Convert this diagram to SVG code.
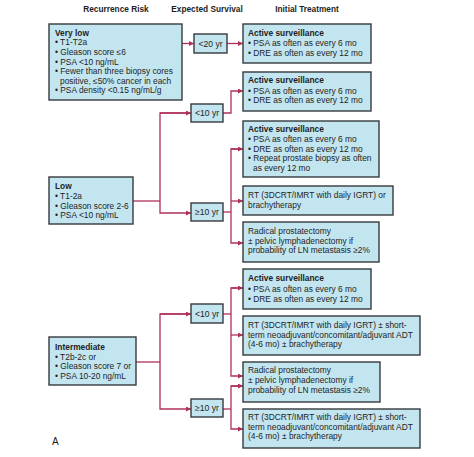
<svg xmlns="http://www.w3.org/2000/svg" width="474" height="457" viewBox="0 0 474 457">
<style>
text{font-family:"Liberation Sans",Arial,sans-serif;font-size:8.4px;fill:#1e1e1e}
.h{font-weight:bold;font-size:8.3px;text-anchor:middle}
.b{font-weight:bold}
.m{text-anchor:middle;font-size:8.6px}
.box{fill:#c3e5f0;stroke:#353b3d;stroke-width:1.4}
.c{fill:none;stroke:#b0305c;stroke-width:1.3}
</style>
<defs>
<marker id="ar" viewBox="0 0 6 6" refX="6" refY="3" markerWidth="5" markerHeight="5" orient="auto" markerUnits="userSpaceOnUse">
<path d="M0,0 L6,3 L0,6 Z" fill="#b0305c"/>
</marker>
</defs>
<rect width="474" height="457" fill="#fff"/>
<g id="headers">
<text class="h" x="116" y="11.5">Recurrence Risk</text>
<text class="h" x="207" y="11.5">Expected Survival</text>
<text class="h" x="307" y="11.5">Initial Treatment</text>
</g>
<g id="connectors">
<path class="c" d="M182,43.5 H194" marker-end="url(#ar)"/>
<path class="c" d="M227,43.5 H243" marker-end="url(#ar)"/>
<path class="c" d="M133,201 H160"/>
<path class="c" d="M191,113 H160 V213 H191" marker-end="url(#ar)"/>
<path class="c" d="M160,113 H191" marker-end="url(#ar)"/>
<path class="c" d="M223,113 H231 V91 H243" marker-end="url(#ar)"/>
<path class="c" d="M223,212 H231"/>
<path class="c" d="M243,149 H231 V243 H243" marker-end="url(#ar)"/>
<path class="c" d="M231,149 H243" marker-end="url(#ar)"/>
<path class="c" d="M231,201 H243" marker-end="url(#ar)"/>
<path class="c" d="M136,362 H160"/>
<path class="c" d="M191,314 H160 V409 H191" marker-end="url(#ar)"/>
<path class="c" d="M160,314 H191" marker-end="url(#ar)"/>
<path class="c" d="M223,314 H231"/>
<path class="c" d="M243,288 H231 V376 H243" marker-end="url(#ar)"/>
<path class="c" d="M231,288 H243" marker-end="url(#ar)"/>
<path class="c" d="M231,335 H243" marker-end="url(#ar)"/>
<path class="c" d="M223,409 H231"/>
<path class="c" d="M243,386 H231 V429 H243" marker-end="url(#ar)"/>
<path class="c" d="M231,386 H243" marker-end="url(#ar)"/>
</g>
<g id="verylow">
<rect class="box" x="49" y="24" width="133" height="76"/>
<text class="b" x="55" y="35.5">Very low</text>
<text x="55" y="45.2">• T1-T2a</text>
<text x="55" y="54.8">• Gleason score ≤6</text>
<text x="55" y="64.5">• PSA &lt;10 ng/mL</text>
<text x="55" y="74.1">• Fewer than three biopsy cores</text>
<text x="60" y="83.8">positive, ≤50% cancer in each</text>
<text x="55" y="93.4">• PSA density &lt;0.15 ng/mL/g</text>
</g>
<g id="low">
<rect class="box" x="49" y="177" width="84" height="47"/>
<text class="b" x="55" y="189">Low</text>
<text x="55" y="199">• T1-2a</text>
<text x="55" y="208.5">• Gleason score 2-6</text>
<text x="55" y="218">• PSA &lt;10 ng/mL</text>
</g>
<g id="intermediate">
<rect class="box" x="49" y="337" width="87" height="48"/>
<text class="b" x="55" y="349.5">Intermediate</text>
<text x="55" y="359.5">• T2b-2c or</text>
<text x="55" y="369">• Gleason score 7 or</text>
<text x="55" y="378.7">• PSA 10-20 ng/mL</text>
</g>
<g id="s1">
<rect class="box" x="194" y="34" width="33" height="19"/>
<text class="m" x="210.5" y="46.5">&lt;20 yr</text>
</g>
<g id="s2">
<rect class="box" x="191" y="104" width="32" height="18"/>
<text class="m" x="207" y="116">&lt;10 yr</text>
</g>
<g id="s3">
<rect class="box" x="191" y="203" width="32" height="18"/>
<text class="m" x="207" y="215">≥10 yr</text>
</g>
<g id="s4">
<rect class="box" x="191" y="304" width="32" height="19"/>
<text class="m" x="207" y="316.5">&lt;10 yr</text>
</g>
<g id="s5">
<rect class="box" x="191" y="399" width="32" height="18"/>
<text class="m" x="207" y="411">≥10 yr</text>
</g>
<g id="t1">
<rect class="box" x="243" y="24" width="128" height="39"/>
<text class="b" x="248" y="35.5">Active surveillance</text>
<text x="248" y="46">• PSA as often as every 6 mo</text>
<text x="248" y="55.5">• DRE as often as every 12 mo</text>
</g>
<g id="t2">
<rect class="box" x="243" y="72" width="128" height="39"/>
<text class="b" x="248" y="83">Active surveillance</text>
<text x="248" y="93.5">• PSA as often as every 6 mo</text>
<text x="248" y="103">• DRE as often as every 12 mo</text>
</g>
<g id="t3">
<rect class="box" x="243" y="121" width="136" height="56"/>
<text class="b" x="248" y="132">Active surveillance</text>
<text x="248" y="142">• PSA as often as every 6 mo</text>
<text x="248" y="151.7">• DRE as often as every 12 mo</text>
<text x="248" y="161.4">• Repeat prostate biopsy as often</text>
<text x="253" y="171">as every 12 mo</text>
</g>
<g id="t4">
<rect class="box" x="243" y="186" width="150" height="29"/>
<text x="248" y="198">RT (3DCRT/IMRT with daily IGRT) or</text>
<text x="248" y="208">brachytherapy</text>
</g>
<g id="t5">
<rect class="box" x="243" y="222" width="136" height="40"/>
<text x="248" y="234">Radical prostatectomy</text>
<text x="248" y="243.5">± pelvic lymphadenectomy if</text>
<text x="248" y="253">probability of LN metastasis ≥2%</text>
</g>
<g id="t6">
<rect class="box" x="243" y="269" width="128" height="40"/>
<text class="b" x="248" y="281">Active surveillance</text>
<text x="248" y="292">• PSA as often as every 6 mo</text>
<text x="248" y="302">• DRE as often as every 12 mo</text>
</g>
<g id="t7">
<rect class="box" x="243" y="316" width="177" height="39"/>
<text x="248" y="328">RT (3DCRT/IMRT with daily IGRT) ± short-</text>
<text x="248" y="337.5">term neoadjuvant/concomitant/adjuvant ADT</text>
<text x="248" y="347">(4-6 mo) ± brachytherapy</text>
</g>
<g id="t8">
<rect class="box" x="243" y="362" width="137" height="40"/>
<text x="248" y="373">Radical prostatectomy</text>
<text x="248" y="383">± pelvic lymphadenectomy if</text>
<text x="248" y="392.5">probability of LN metastasis ≥2%</text>
</g>
<g id="t9">
<rect class="box" x="243" y="409" width="177" height="39"/>
<text x="248" y="420">RT (3DCRT/IMRT with daily IGRT) ± short-</text>
<text x="248" y="429.5">term neoadjuvant/concomitant/adjuvant ADT</text>
<text x="248" y="439">(4-6 mo) ± brachytherapy</text>
</g>
<text x="52" y="445" style="font-size:10px">A</text>
</svg>
